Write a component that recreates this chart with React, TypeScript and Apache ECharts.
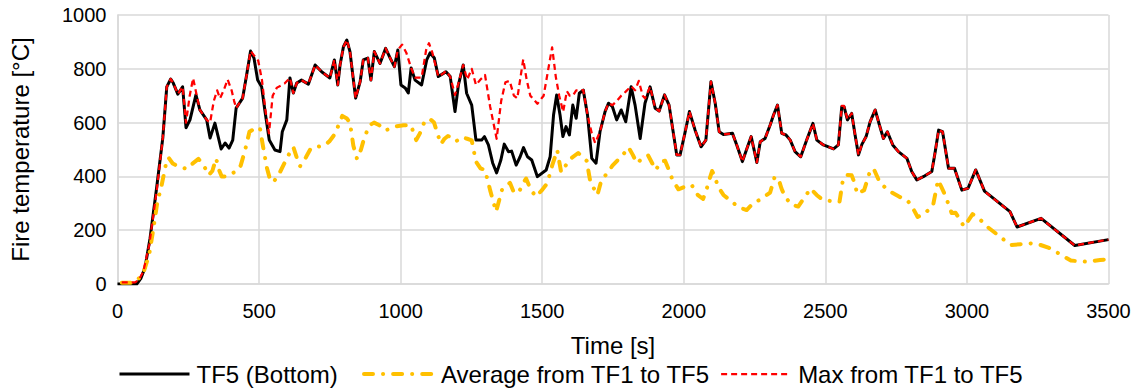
import React, { useEffect, useRef } from "react";
import * as echarts from "echarts";

const seriesNames = ["TF5 (Bottom)", "Average from TF1 to TF5", "Max from TF1 to TF5"];
const xTicks = [0, 500, 1000, 1500, 2000, 2500, 3000, 3500];
const yTicks = [0, 200, 400, 600, 800, 1000];

const tf5Bottom: [number, number][] = [
  [0, 0], [68, 0], [82, 20], [97, 60], [115, 170], [138, 356], [160, 543], [174, 733], [188, 762], [197, 747],
  [213, 706], [230, 733], [242, 581], [256, 610], [277, 703], [291, 647], [315, 610], [327, 543], [344, 598], [366, 502],
  [380, 524], [394, 505], [407, 535], [419, 654], [442, 691], [456, 777], [470, 866], [482, 840], [495, 758], [509, 733],
  [521, 641], [536, 535], [556, 498], [574, 492], [582, 566], [598, 610], [609, 766], [621, 710], [633, 747], [650, 758],
  [674, 743], [698, 814], [721, 789], [750, 766], [766, 833], [778, 740], [786, 814], [798, 882], [810, 907], [821, 864],
  [841, 691], [857, 752], [868, 833], [884, 840], [895, 758], [907, 864], [927, 820], [947, 876], [963, 840], [978, 808],
  [990, 870], [1001, 740], [1016, 729], [1027, 710], [1037, 803], [1051, 758], [1074, 740], [1092, 833], [1104, 859], [1119, 840],
  [1133, 771], [1151, 783], [1160, 789], [1175, 771], [1192, 641], [1204, 740], [1221, 814], [1233, 709], [1251, 665], [1266, 535],
  [1286, 535], [1296, 548], [1310, 517], [1325, 450], [1339, 413], [1354, 461], [1366, 520], [1381, 492], [1392, 494], [1408, 442],
  [1422, 473], [1434, 507], [1448, 473], [1463, 461], [1483, 399], [1514, 424], [1528, 473], [1540, 628], [1551, 703], [1563, 628],
  [1573, 548], [1584, 585], [1596, 554], [1608, 665], [1620, 616], [1631, 709], [1645, 721], [1660, 628], [1675, 467], [1690, 449],
  [1704, 566], [1722, 641], [1734, 672], [1748, 659], [1763, 610], [1779, 647], [1795, 603], [1814, 733], [1828, 665], [1846, 541],
  [1863, 672], [1881, 733], [1899, 653], [1913, 643], [1932, 703], [1948, 665], [1975, 480], [1987, 480], [2005, 566], [2020, 641],
  [2040, 572], [2061, 510], [2078, 535], [2096, 752], [2111, 672], [2125, 566], [2140, 556], [2172, 560], [2187, 517], [2207, 455],
  [2223, 504], [2238, 548], [2258, 452], [2270, 529], [2287, 541], [2305, 591], [2317, 628], [2331, 665], [2346, 560], [2361, 554],
  [2376, 535], [2393, 492], [2413, 473], [2434, 535], [2456, 597], [2470, 535], [2493, 517], [2529, 502], [2546, 517], [2558, 659],
  [2566, 659], [2578, 610], [2593, 634], [2605, 554], [2617, 480], [2629, 519], [2644, 548], [2658, 603], [2676, 647], [2691, 591],
  [2705, 541], [2719, 566], [2738, 517], [2758, 492], [2788, 467], [2805, 418], [2823, 387], [2846, 399], [2876, 418], [2888, 492],
  [2900, 572], [2914, 566], [2935, 430], [2956, 430], [2982, 349], [3004, 356], [3031, 424], [3062, 345], [3152, 269], [3177, 212],
  [3262, 244], [3381, 143], [3500, 165],
];

const averageTF1toTF5: [number, number][] = [
  [15, 5], [62, 5], [91, 40], [112, 110], [126, 200], [140, 300], [156, 368], [170, 440], [180, 470], [195, 448],
  [209, 440], [231, 432], [245, 428], [262, 445], [286, 465], [305, 440], [322, 405], [335, 420], [348, 467], [360, 420],
  [368, 400], [385, 400], [400, 410], [419, 418], [435, 440], [450, 495], [466, 566], [480, 575], [495, 575], [503, 580],
  [513, 517], [528, 430], [541, 380], [555, 385], [574, 416], [590, 450], [606, 483], [621, 509], [633, 470], [645, 438],
  [665, 470], [683, 505], [705, 510], [729, 514], [748, 530], [768, 558], [794, 625], [810, 615], [821, 600], [833, 514],
  [846, 465], [860, 500], [872, 545], [890, 590], [906, 600], [925, 590], [942, 572], [960, 575], [984, 586], [1010, 590],
  [1036, 591], [1055, 535], [1068, 560], [1086, 608], [1105, 612], [1118, 600], [1130, 560], [1142, 520], [1155, 540], [1167, 550],
  [1182, 545], [1196, 531], [1210, 540], [1218, 546], [1235, 540], [1251, 534], [1266, 455], [1282, 430], [1298, 424], [1316, 349],
  [1337, 269], [1358, 350], [1372, 365], [1386, 376], [1400, 340], [1418, 342], [1430, 370], [1443, 392], [1460, 350], [1478, 325],
  [1500, 350], [1518, 375], [1535, 440], [1553, 498], [1567, 415], [1584, 442], [1605, 470], [1627, 487], [1657, 458], [1670, 379],
  [1695, 331], [1710, 390], [1729, 410], [1748, 440], [1766, 460], [1785, 480], [1805, 508], [1820, 480], [1834, 449], [1855, 468],
  [1874, 478], [1901, 424], [1920, 455], [1934, 458], [1945, 430], [1961, 385], [1981, 352], [2000, 360], [2028, 368], [2050, 330],
  [2068, 316], [2080, 350], [2090, 387], [2100, 420], [2107, 405], [2122, 360], [2140, 331], [2165, 310], [2193, 286], [2222, 275],
  [2245, 300], [2270, 314], [2305, 340], [2320, 395], [2333, 396], [2345, 355], [2358, 324], [2380, 295], [2404, 288], [2425, 320],
  [2448, 355], [2470, 330], [2488, 315], [2520, 308], [2550, 306], [2563, 394], [2578, 405], [2593, 404], [2605, 370], [2612, 335],
  [2637, 349], [2655, 410], [2670, 430], [2693, 376], [2710, 360], [2726, 345], [2760, 325], [2788, 313], [2805, 290], [2826, 249],
  [2850, 262], [2880, 290], [2898, 387], [2910, 360], [2924, 328], [2946, 264], [2960, 265], [2990, 213], [3020, 260], [3046, 240],
  [3075, 210], [3102, 188], [3130, 165], [3155, 145], [3224, 151], [3260, 145], [3290, 134], [3330, 110], [3367, 87], [3420, 83],
  [3470, 89], [3500, 92],
];

const maxTF1toTF5: [number, number][] = [
  [15, 6], [62, 6], [75, 15], [91, 46], [112, 145], [138, 343], [160, 543], [174, 733], [188, 762], [197, 747],
  [213, 706], [230, 733], [242, 600], [255, 700], [267, 765], [280, 700], [291, 647], [315, 610], [327, 600], [340, 680],
  [352, 720], [362, 690], [375, 720], [389, 760], [403, 720], [412, 680], [419, 654], [442, 691], [456, 777], [470, 866],
  [482, 850], [497, 830], [510, 760], [522, 650], [535, 560], [548, 700], [563, 730], [590, 745], [609, 766], [621, 710],
  [633, 747], [650, 758], [674, 743], [698, 814], [721, 789], [750, 766], [766, 833], [778, 740], [786, 814], [798, 882],
  [810, 907], [821, 864], [841, 691], [857, 752], [868, 833], [884, 840], [895, 758], [907, 864], [927, 820], [947, 876],
  [963, 840], [978, 808], [990, 870], [1005, 890], [1020, 860], [1037, 803], [1051, 767], [1074, 767], [1090, 870], [1100, 895],
  [1112, 860], [1133, 771], [1151, 783], [1160, 792], [1175, 771], [1192, 703], [1204, 745], [1221, 814], [1235, 760], [1251, 800],
  [1266, 740], [1282, 760], [1298, 777], [1316, 660], [1339, 540], [1355, 680], [1370, 750], [1385, 755], [1400, 700], [1412, 690],
  [1425, 780], [1433, 835], [1445, 760], [1458, 700], [1483, 670], [1505, 700], [1520, 790], [1535, 880], [1548, 770], [1560, 700],
  [1574, 640], [1587, 717], [1597, 700], [1608, 700], [1620, 720], [1631, 720], [1645, 721], [1660, 628], [1675, 560], [1687, 524],
  [1704, 566], [1722, 641], [1734, 672], [1748, 665], [1763, 680], [1779, 700], [1795, 715], [1814, 735], [1828, 720], [1841, 755],
  [1855, 700], [1863, 690], [1881, 733], [1899, 653], [1913, 643], [1932, 703], [1948, 665], [1975, 480], [1987, 480], [2005, 566],
  [2020, 641], [2040, 572], [2061, 510], [2078, 535], [2096, 752], [2111, 672], [2125, 566], [2140, 556], [2172, 560], [2187, 517],
  [2207, 455], [2223, 504], [2238, 548], [2258, 452], [2270, 529], [2287, 541], [2305, 591], [2317, 628], [2331, 665], [2346, 560],
  [2361, 554], [2376, 535], [2393, 492], [2413, 473], [2434, 535], [2456, 597], [2470, 535], [2493, 517], [2529, 502], [2546, 517],
  [2558, 662], [2566, 662], [2578, 612], [2593, 634], [2605, 554], [2617, 480], [2629, 519], [2644, 548], [2658, 603], [2676, 647],
  [2691, 591], [2705, 541], [2719, 566], [2738, 517], [2758, 492], [2788, 467], [2805, 418], [2823, 387], [2846, 399], [2876, 418],
  [2888, 492], [2900, 572], [2914, 566], [2935, 430], [2956, 430], [2982, 349], [3004, 356], [3031, 424], [3062, 345], [3152, 269],
  [3177, 212], [3262, 244], [3381, 143], [3500, 165],
];

const FONT = "Liberation Sans, Arial, sans-serif";
const legendLefts = [118, 362, 720];
const lineColors = ["#000000", "#FFC000", "#FF0000"];
const lineWidths = [3, 4, 2.25];
const lineTypes: any[] = ["solid", [9, 10, 0.1, 10], [6, 4]];
const lineCaps = ["butt", "round", "butt"];

export default function App() {
  const ref = useRef<HTMLDivElement>(null);
  useEffect(() => {
    if (!ref.current) return;
    const chart = echarts.init(ref.current, undefined, { renderer: "svg" });
    const legends = seriesNames.map((n, i) => ({
      top: 362,
      left: legendLefts[i],
      padding: 0,
      itemWidth: 70,
      itemHeight: 14,
      itemGap: 6,
      itemStyle: { opacity: 0 },
      lineStyle: { color: lineColors[i], width: lineWidths[i], type: lineTypes[i], cap: lineCaps[i] },
      textStyle: { color: "#000", fontSize: 24, fontFamily: FONT, padding: [0, 0, 0, 2] },
      data: [n],
    }));
    const dataSets = [tf5Bottom, averageTF1toTF5, maxTF1toTF5];
    chart.setOption({
      animation: false,
      backgroundColor: "#ffffff",
      textStyle: { fontFamily: FONT },
      grid: { left: 117.5, right: 33.5, top: 15, bottom: 105, containLabel: false },
      xAxis: {
        type: "value",
        min: xTicks[0],
        max: xTicks[xTicks.length - 1],
        interval: 500,
        name: "Time [s]",
        nameLocation: "middle",
        nameGap: 49,
        nameTextStyle: { color: "#000", fontSize: 24, fontFamily: FONT },
        axisLine: { show: true, lineStyle: { color: "#d9d9d9", width: 1.5 } },
        axisTick: { show: false },
        axisLabel: { color: "#000", fontSize: 20, fontFamily: FONT, margin: 17, formatter: (v: number) => String(v) },
        splitLine: { show: true, lineStyle: { color: "#d9d9d9", width: 1.5 } },
      },
      yAxis: {
        type: "value",
        min: yTicks[0],
        max: yTicks[yTicks.length - 1],
        interval: 200,
        name: "Fire temperature [°C]",
        nameLocation: "middle",
        nameGap: 85,
        nameTextStyle: { color: "#000", fontSize: 24, fontFamily: FONT },
        axisLine: { show: true, lineStyle: { color: "#d9d9d9", width: 1.5 } },
        axisTick: { show: false },
        axisLabel: { color: "#000", fontSize: 20, fontFamily: FONT, margin: 11, formatter: (v: number) => String(v) },
        splitLine: { show: true, lineStyle: { color: "#d9d9d9", width: 1.5 } },
      },
      legend: legends,
      series: seriesNames.map((n, i) => ({
        name: n,
        type: "line",
        data: dataSets[i],
        showSymbol: false,
        symbol: "none",
        lineStyle: { color: lineColors[i], width: lineWidths[i], type: lineTypes[i], cap: lineCaps[i], join: "round" },
        itemStyle: { color: lineColors[i] },
      })),
    });
    return () => chart.dispose();
  }, []);
  return (
    <div
      ref={ref}
      style={{ position: "fixed", left: 0, top: 0, width: 1142, height: 389 }}
    />
  );
}
